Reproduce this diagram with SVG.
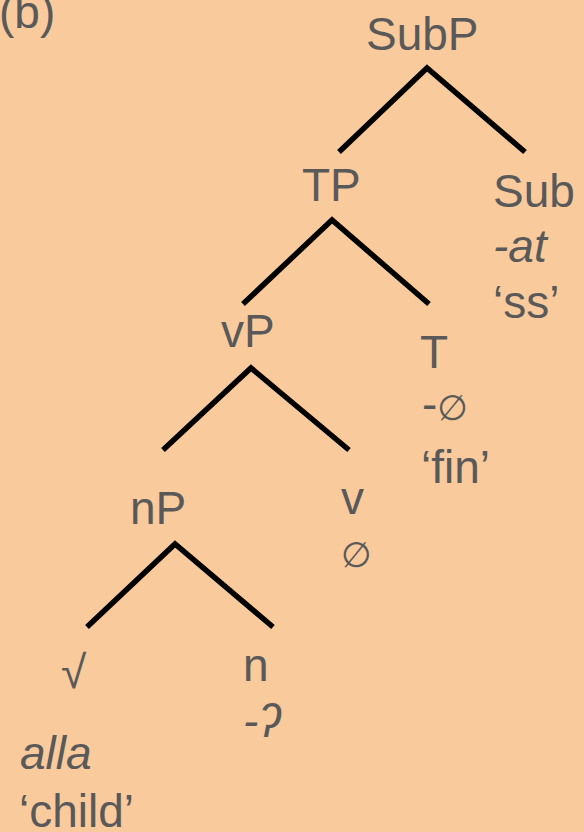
<svg xmlns="http://www.w3.org/2000/svg" width="584" height="832" viewBox="0 0 584 832">
  <style>
    .lbl { font-family: "Liberation Sans", Arial, sans-serif; font-size: 46px; fill: #595959; }
    .it { font-style: italic; }
    .null { font-family: "DejaVu Sans", sans-serif; font-weight: 200; font-style: italic; font-size: 35px; fill: #595959; }
    .edge { stroke: #000; stroke-width: 5.5; fill: none; stroke-linejoin: miter; }
  </style>
  <rect x="0" y="0" width="584" height="832" fill="#F9CA9C"/>

  <text id="tag" class="lbl" x="-1" y="28">(b)</text>

  <g id="edges">
    <polyline class="edge" points="339,152 427,68 525,152"/>
    <polyline class="edge" points="243,304 332,220 429,304"/>
    <polyline class="edge" points="163,450 251,368 349,450"/>
    <polyline class="edge" points="87,627 175,544 273,627"/>
  </g>

  <g id="SubP"><text class="lbl" x="366" y="50">SubP</text></g>
  <g id="TP"><text class="lbl" x="302" y="201">TP</text></g>
  <g id="Sub">
    <text class="lbl" x="493" y="207">Sub</text>
    <text class="lbl it" x="493" y="262">-at</text>
    <text class="lbl" x="493" y="318">‘ss’</text>
  </g>
  <g id="vP"><text class="lbl" x="221" y="347">vP</text></g>
  <g id="T">
    <text class="lbl" x="420" y="368">T</text>
    <text class="lbl" x="422" y="420">-<tspan class="null" dx="0">∅</tspan></text>
    <text class="lbl" x="421" y="483">‘fin’</text>
  </g>
  <g id="nP"><text class="lbl" x="130" y="524">nP</text></g>
  <g id="v">
    <text class="lbl" x="341" y="514">v</text>
    <text class="null" x="341" y="567">∅</text>
  </g>
  <g id="root">
    <text class="lbl" x="61" y="688">√</text>
    <text class="lbl it" x="20" y="769">alla</text>
    <text class="lbl" x="19" y="827">‘child’</text>
  </g>
  <g id="n">
    <text class="lbl" x="243" y="681">n</text>
    <text class="lbl it" x="243" y="737">-ʔ</text>
  </g>
</svg>
